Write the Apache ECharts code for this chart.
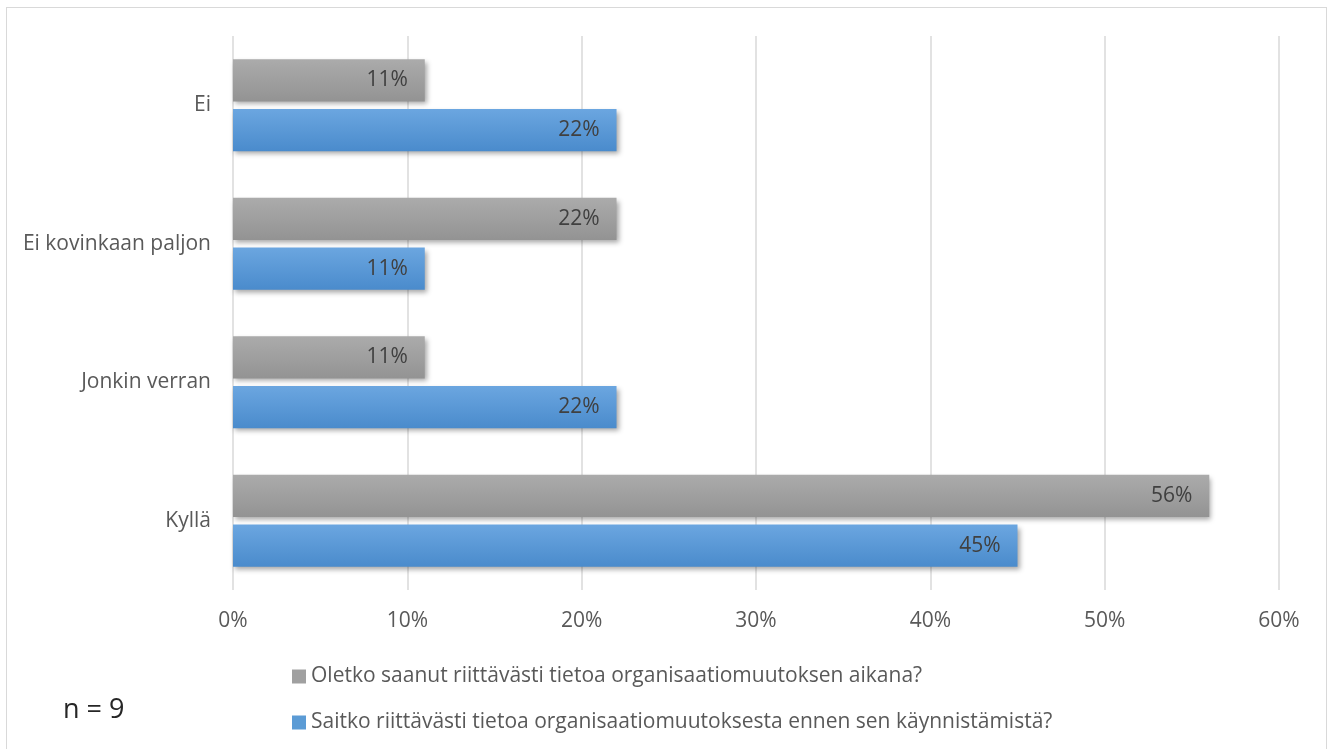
<!DOCTYPE html>
<html>
<head>
<meta charset="utf-8">
<script src="https://cdn.jsdelivr.net/npm/echarts@6/dist/echarts.min.js"></script>
<style>
  html, body { margin: 0; padding: 0; background: #fff; }
  #frame { position: absolute; left: 6px; top: 7px; width: 1321px; height: 760px; border: 1px solid #d9d9d9; box-sizing: border-box; }
  #chart { position: absolute; left: 0; top: 0; width: 1335px; height: 749px; }
</style>
</head>
<body>
<div id="frame"></div>
<div id="chart"></div>
<script>
// Vastausvaihtoehdot (alhaalta ylös)
const categories = ['Kyllä', 'Jonkin verran', 'Ei kovinkaan paljon', 'Ei'];
// Kysymykset
const seriesNames = [
  'Oletko saanut riittävästi tietoa organisaatiomuutoksen aikana?',
  'Saitko riittävästi tietoa organisaatiomuutoksesta ennen sen käynnistämistä?'
];
// Osuudet prosentteina
const duringValues = [56, 11, 22, 11];
const beforeValues = [45, 22, 11, 22];
const tickLabels = ['0%', '10%', '20%', '30%', '40%', '50%', '60%'];
const respondents = 9;

const FONT = '"Open Sans", "Noto Sans", sans-serif';

function grad(top, bottom) {
  return new echarts.graphic.LinearGradient(0, 0, 0, 1, [
    { offset: 0, color: top },
    { offset: 1, color: bottom }
  ]);
}

const chart = echarts.init(document.getElementById('chart'), null, { renderer: 'canvas' });

const labelStyle = {
  show: true,
  position: 'insideRight',
  distance: 17,
  formatter: p => p.value + '%',
  color: '#404040',
  fontFamily: FONT,
  fontSize: 21
};

chart.setOption({
  animation: false,
  backgroundColor: 'transparent',
  grid: { left: 233, right: 56, top: 36, bottom: 159, containLabel: false },
  xAxis: {
    type: 'value',
    min: 0,
    max: 60,
    interval: 10,
    axisLine: { show: false },
    axisTick: { show: false },
    splitLine: { show: true, lineStyle: { color: '#d9d9d9', width: 1.5 } },
    axisLabel: {
      margin: 21,
      color: '#595959',
      fontFamily: FONT,
      fontSize: 21,
      formatter: v => tickLabels[v / 10]
    }
  },
  yAxis: {
    type: 'category',
    data: categories,
    axisLine: { show: false },
    axisTick: { show: false },
    axisLabel: {
      margin: 22,
      color: '#595959',
      fontFamily: FONT,
      fontSize: 21
    }
  },
  legend: {
    orient: 'vertical',
    left: 287,
    top: 661,
    itemWidth: 14,
    itemHeight: 14,
    itemGap: 25,
    icon: 'rect',
    textStyle: { color: '#595959', fontFamily: FONT, fontSize: 21 },
    data: [
      { name: seriesNames[0], itemStyle: { color: '#a0a0a0' } },
      { name: seriesNames[1], itemStyle: { color: '#5b9bd5' } }
    ]
  },
  series: [
    {
      name: seriesNames[0],
      type: 'bar',
      data: duringValues,
      barCategoryGap: '33.6%',
      barGap: '18%',
      itemStyle: {
        color: grad('#ababab', '#939393'),
        shadowColor: 'rgba(0,0,0,0.35)',
        shadowBlur: 5,
        shadowOffsetX: 2,
        shadowOffsetY: 3
      },
      label: labelStyle
    },
    {
      name: seriesNames[1],
      type: 'bar',
      data: beforeValues,
      barCategoryGap: '33.6%',
      barGap: '18%',
      itemStyle: {
        color: grad('#6ba6e0', '#4a8bcc'),
        shadowColor: 'rgba(0,0,0,0.35)',
        shadowBlur: 5,
        shadowOffsetX: 2,
        shadowOffsetY: 3
      },
      label: labelStyle
    }
  ],
  graphic: [
    {
      type: 'text',
      left: 63,
      top: 697,
      style: {
        text: 'n = ' + respondents,
        fill: '#262626',
        font: '27px ' + FONT
      }
    }
  ]
});
</script>
</body>
</html>
